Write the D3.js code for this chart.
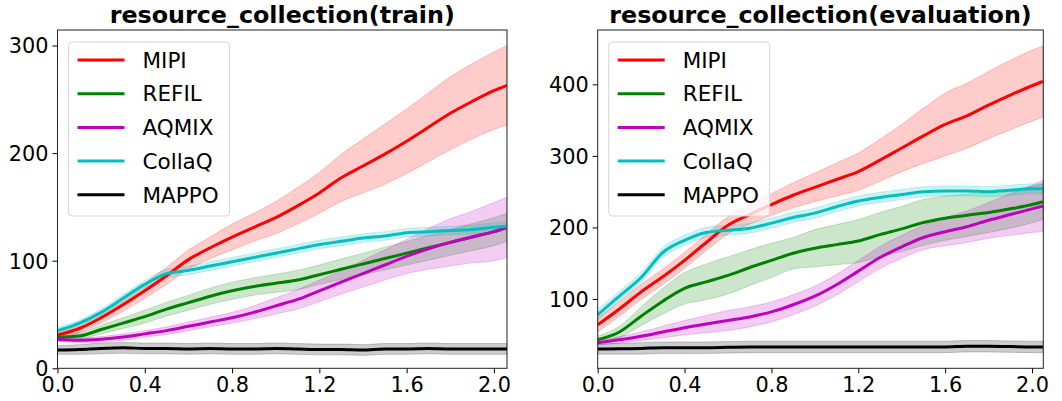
<!DOCTYPE html>
<html>
<head>
<meta charset="utf-8">
<script src="https://cdn.jsdelivr.net/npm/d3@7"></script>
<style>
  body { margin: 0; background: #fff; }
  svg { display: block; font-family: "DejaVu Sans", sans-serif; }
</style>
</head>
<body>
<svg id="chart" width="1062" height="401"></svg>
<script>
// shared x grid (values at these steps)
const xsTrain = [0, 0.1, 0.2, 0.3, 0.4, 0.5, 0.6, 0.7, 0.8, 0.9, 1.0, 1.1, 1.2, 1.3, 1.4, 1.5, 1.6, 1.7, 1.8, 1.9, 2.0, 2.06];
const xsEval  = [0, 0.1, 0.2, 0.3, 0.4, 0.5, 0.6, 0.7, 0.8, 0.9, 1.0, 1.1, 1.2, 1.3, 1.4, 1.5, 1.6, 1.7, 1.8, 1.9, 2.0, 2.05];

const methods = ["MIPI", "REFIL", "AQMIX", "CollaQ", "MAPPO"];
const colors  = ["#ff0000", "#008000", "#bf00bf", "#00bfbf", "#000000"];

// train: mean and half band width
const trainMIPI     = [31, 37, 47, 59, 72, 86, 101, 112, 122, 131, 140, 151, 163, 177, 188, 199, 211, 224, 237, 248, 258, 263];
const trainMIPIBand = [3, 4, 5, 6, 7, 8, 9, 10, 12, 13, 15, 17, 19, 22, 25, 28, 30, 32, 34, 35, 36, 37];
const trainREFIL     = [29, 30, 36, 42, 48, 55, 61, 67, 72, 76, 79, 82, 87, 92, 97, 102, 107, 112, 117, 122, 127, 131];
const trainREFILBand = [3, 3, 4, 5, 6, 6.5, 7, 7.5, 8, 8, 8.5, 9, 9, 9.5, 10, 10.5, 11, 11.5, 12, 12.5, 13, 13];
const trainAQMIX     = [27, 26, 27, 29, 32, 35, 39, 43, 47, 52, 58, 64, 72, 80, 88, 96, 104, 111, 117, 122, 127, 131];
const trainAQMIXBand = [2, 2, 2.5, 3, 3, 3.5, 4, 4.5, 5, 6, 7.5, 9, 10, 11, 12.5, 14, 16, 19, 22, 24, 27, 28];
const trainCollaQ     = [35, 42, 52, 65, 78, 88, 91, 95, 99, 103, 107, 111, 115, 118, 121, 123, 126, 127, 128, 129, 131, 132];
const trainCollaQBand = [3, 3, 3, 3.5, 3.5, 4, 4, 4, 4, 4, 4, 4, 4, 4, 4, 4, 4, 4, 4, 4, 4, 4];
const trainMAPPO     = [17, 17.5, 18.5, 19, 18.5, 18.5, 18, 18.5, 18, 18, 18.5, 18, 17.5, 17.5, 17, 18, 18, 18.5, 18, 18, 18, 18];
const trainMAPPOBand = [4, 4.5, 5, 5, 5, 5, 5, 5, 5, 5, 5, 5, 5, 5, 5, 5, 5, 5, 5, 5, 5, 5];

// evaluation
const evalMIPI     = [64, 86, 110, 131, 154, 179, 203, 218, 232, 245, 256, 267, 278, 294, 311, 328, 344, 356, 371, 385, 398, 404];
const evalMIPIBand = [10, 10, 10.5, 11, 11, 11.5, 12, 13.5, 15, 17.5, 20, 23, 26, 29.5, 33, 38.5, 44, 45.5, 47, 48.5, 49.5, 50];
const evalREFIL     = [43, 54, 76, 97, 115, 124, 133, 144, 154, 164, 171, 176, 181, 190, 198, 207, 213, 217, 221, 226, 232, 236];
const evalREFILBand = [5, 8, 13, 18, 22, 25, 26, 25, 24, 22, 26, 28, 30, 31, 31.5, 32, 31, 29.5, 28, 27, 25.5, 25];
const evalAQMIX     = [39, 43, 48, 54, 60, 65, 70, 75, 82, 92, 104, 120, 139, 158, 173, 186, 194, 201, 210, 218, 226, 230];
const evalAQMIXBand = [3, 4.5, 6, 8, 10, 12, 14, 14, 14, 14, 14, 14.5, 15, 15.5, 16, 17, 19.5, 22, 25, 29, 33, 36];
const evalCollaQ     = [78, 104, 130, 165, 182, 193, 196, 199, 206, 214, 220, 229, 237, 242, 246, 250, 251, 251, 250, 252, 254, 254];
const evalCollaQBand = [7, 7, 7, 7, 7, 7, 7, 7, 7, 7, 7, 7, 7, 7, 7, 7, 7, 7, 7, 7, 7, 7];
const evalMAPPO     = [30, 30.5, 31, 32, 32, 32, 32.5, 33, 33, 33, 33, 33, 33, 33, 33, 33, 33, 34, 34, 33.5, 33, 33];
const evalMAPPOBand = [7, 7.5, 8, 8, 8, 8, 8, 8, 8, 8, 8, 8, 8, 8, 8, 8, 8, 8, 8, 8, 8, 8];

const trainTicksY = [0, 100, 200, 300];
const evalTicksY  = [100, 200, 300, 400];
const ticksX = [0, 0.4, 0.8, 1.2, 1.6, 2.0];

const tickFontSize = 20.8;
const titleFontSize = 23.8;
const legendFontSize = 21.5;
const svg = d3.select("#chart");

const drawPanel = (cfg) =>
{
    const x = d3.scaleLinear().domain(cfg.xDomain).range([cfg.left, cfg.right]);
    const y = d3.scaleLinear().domain(cfg.yDomain).range([cfg.bottom, cfg.top]);
    const g = svg.append("g");

    const clipId = `clip-${cfg.name}`;
    g.append("clipPath").attr("id", clipId)
        .append("rect")
        .attr("x", cfg.left).attr("y", cfg.top)
        .attr("width", cfg.right - cfg.left).attr("height", cfg.bottom - cfg.top);

    const plot = g.append("g").attr("clip-path", `url(#${clipId})`);

    const area = d3.area()
        .x(d => x(d.x)).y0(d => y(d.lo)).y1(d => y(d.hi))
        .curve(d3.curveMonotoneX);
    const line = d3.line()
        .x(d => x(d.x)).y(d => y(d.m))
        .curve(d3.curveMonotoneX);

    const rows = cfg.series.map((s, i) =>
        cfg.xs.map((xv, j) => ({ x: xv, m: s[0][j], lo: s[0][j] - s[1][j], hi: s[0][j] + s[1][j] })));

    rows.forEach((r, i) =>
    {
        plot.append("path")
            .attr("d", area(r))
            .attr("fill", colors[i])
            .attr("fill-opacity", 0.2)
            .attr("stroke", colors[i])
            .attr("stroke-opacity", 0.2)
            .attr("stroke-width", 1);
    });
    rows.forEach((r, i) =>
    {
        plot.append("path")
            .attr("d", line(r))
            .attr("fill", "none")
            .attr("stroke", colors[i])
            .attr("stroke-width", 3)
            .attr("stroke-linejoin", "round");
    });

    // axes
    const xAxis = g.append("g")
        .attr("transform", `translate(0,${cfg.bottom})`)
        .call(d3.axisBottom(x).tickValues(ticksX).tickFormat(d3.format(".1f")).tickSizeInner(5).tickSizeOuter(0).tickPadding(4));
    const yAxis = g.append("g")
        .attr("transform", `translate(${cfg.left},0)`)
        .call(d3.axisLeft(y).tickValues(cfg.yTicks).tickSizeInner(5).tickSizeOuter(0).tickPadding(4));
    [xAxis, yAxis].forEach(a =>
    {
        a.select(".domain").remove();
        a.selectAll("line").attr("stroke", "#000").attr("stroke-width", 1);
        a.selectAll("text").attr("font-size", tickFontSize).attr("fill", "#000")
            .attr("font-family", "DejaVu Sans");
    });
    yAxis.selectAll("text").attr("dy", "0.36em");

    g.append("rect")
        .attr("x", cfg.left).attr("y", cfg.top)
        .attr("width", cfg.right - cfg.left).attr("height", cfg.bottom - cfg.top)
        .attr("fill", "none").attr("stroke", "#222").attr("stroke-width", 1);

    g.append("text")
        .text(cfg.title)
        .attr("x", (cfg.left + cfg.right) / 2)
        .attr("y", 23)
        .attr("text-anchor", "middle")
        .attr("font-size", titleFontSize)
        .attr("font-weight", "bold");

    // legend
    const lg = g.append("g").attr("transform", `translate(${cfg.left + 11},42)`);
    lg.append("rect")
        .attr("width", 161).attr("height", 174)
        .attr("rx", 4).attr("ry", 4)
        .attr("fill", "#fff").attr("fill-opacity", 0.8)
        .attr("stroke", "#d5d5d5").attr("stroke-width", 1);
    methods.forEach((name, i) =>
    {
        const cy = 18 + i * 33.7;
        lg.append("line")
            .attr("x1", 9).attr("x2", 56)
            .attr("y1", cy).attr("y2", cy)
            .attr("stroke", colors[i]).attr("stroke-width", 3);
        lg.append("text")
            .text(name)
            .attr("x", 74).attr("y", cy)
            .attr("dy", "0.36em")
            .attr("font-size", legendFontSize);
    });
}

drawPanel({
    name: "train",
    title: "resource_collection(train)",
    left: 57.5, right: 507, top: 30, bottom: 368.3,
    xDomain: [0, 2.06], yDomain: [0, 314.4],
    yTicks: trainTicksY,
    xs: xsTrain,
    series: [[trainMIPI, trainMIPIBand], [trainREFIL, trainREFILBand], [trainAQMIX, trainAQMIXBand],
             [trainCollaQ, trainCollaQBand], [trainMAPPO, trainMAPPOBand]]
});

drawPanel({
    name: "eval",
    title: "resource_collection(evaluation)",
    left: 597.7, right: 1043.3, top: 30, bottom: 368.3,
    xDomain: [0, 2.052], yDomain: [3.2, 475.9],
    yTicks: evalTicksY,
    xs: xsEval,
    series: [[evalMIPI, evalMIPIBand], [evalREFIL, evalREFILBand], [evalAQMIX, evalAQMIXBand],
             [evalCollaQ, evalCollaQBand], [evalMAPPO, evalMAPPOBand]]
});
</script>
</body>
</html>
